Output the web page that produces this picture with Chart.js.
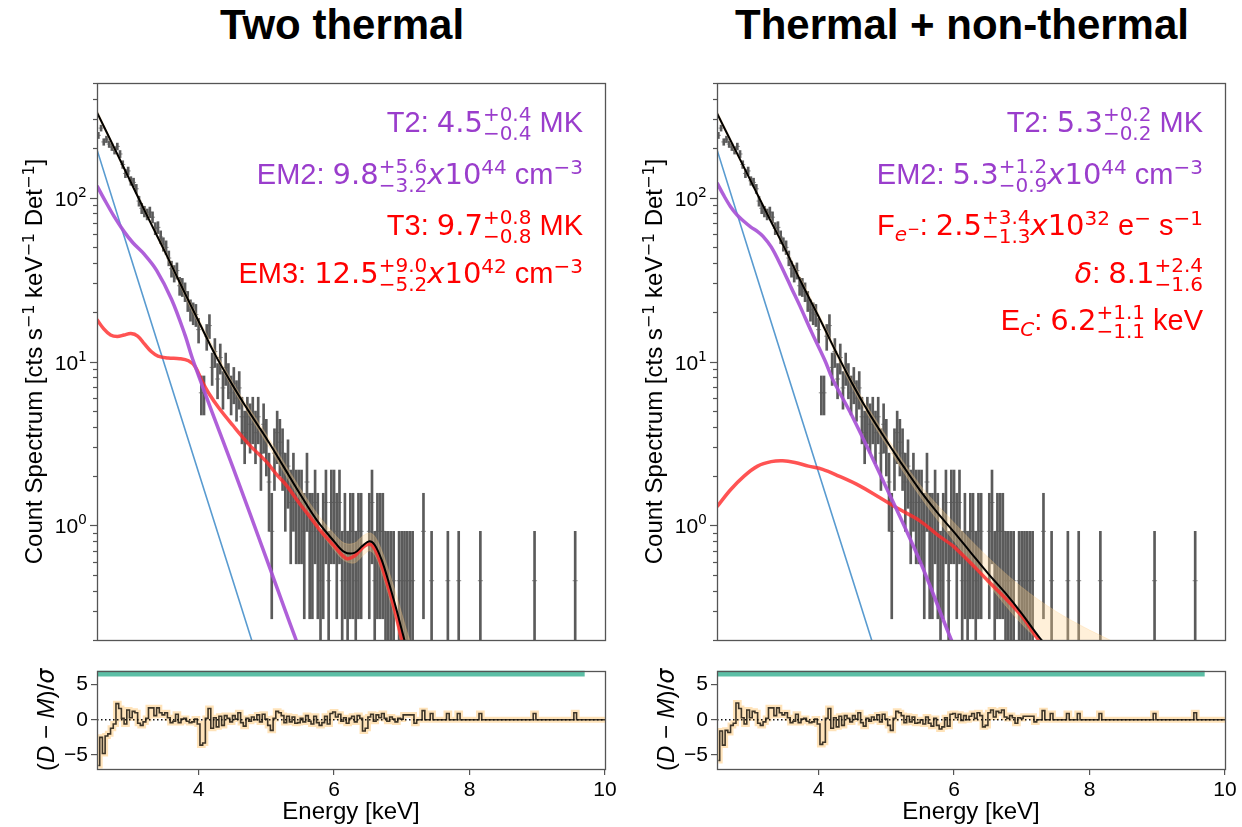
<!DOCTYPE html>
<html>
<head>
<meta charset="utf-8">
<script src="https://cdn.jsdelivr.net/npm/chart.js@4.4.0/dist/chart.umd.min.js"></script>
<style>
  body { margin: 0; background: #fff; width: 1242px; height: 827px; position: relative; overflow: hidden; }
  .ttl { position: absolute; top: 4px; width: 620px; text-align: center; font: bold 42px/42px 'Liberation Sans', Arial, sans-serif; color: #000; }
  canvas { position: absolute; }
</style>
</head>
<body>
<div class="ttl" style="left:32px">Two thermal</div>
<div class="ttl" style="left:652px">Thermal + non-thermal</div>
<canvas id="mainL" width="620" height="570" style="left:0;top:75px"></canvas>
<canvas id="resL" width="620" height="172" style="left:0;top:655px"></canvas>
<canvas id="mainR" width="620" height="570" style="left:620px;top:75px"></canvas>
<canvas id="resR" width="620" height="172" style="left:620px;top:655px"></canvas>
<script>
const FONT = "'Liberation Sans', Arial, sans-serif";
const MATH = "'DejaVu Sans', sans-serif";
const AXIS_COLOR = "#555";

// DATA: counts spectrum, 0.04 keV bins (rate = counts * RATE_PER_COUNT)
const RATE_PER_COUNT = 0.46;
const binE = [
  2.52,2.56,2.60,2.64,2.68,2.72,2.76,2.80,2.84,2.88,
  2.92,2.96,3.00,3.04,3.08,3.12,3.16,3.20,3.24,3.28,
  3.32,3.36,3.40,3.44,3.48,3.52,3.56,3.60,3.64,3.68,
  3.72,3.76,3.80,3.84,3.88,3.92,3.96,4.00,4.04,4.08,
  4.12,4.16,4.20,4.24,4.28,4.32,4.36,4.40,4.44,4.48,
  4.52,4.56,4.60,4.64,4.68,4.72,4.76,4.80,4.84,4.88,
  4.92,4.96,5.00,5.04,5.08,5.12,5.16,5.20,5.24,5.28,
  5.32,5.36,5.40,5.44,5.48,5.52,5.56,5.60,5.64,5.68,
  5.72,5.76,5.80,5.84,5.88,5.92,5.96,6.00,6.04,6.08,
  6.12,6.16,6.20,6.24,6.28,6.32,6.36,6.40,6.44,6.48,
  6.52,6.56,6.60,6.64,6.68,6.72,6.76,6.80,6.84,6.88,
  6.92,6.96,7.00,7.04,7.08,7.12,7.16,7.20,
  7.32,7.44,7.68,7.84,8.16,8.96,9.56
];
const counts = [
  521,577,475,493,461,442,421,446,401,346,
  305,316,275,269,246,207,187,179,172,177,
  165,141,143,125,113,108,93,80,75,78,
  63,62,58,51,45,43,42,34,14,14,
  31,36,20,25,17,23,15,20,17,14,
  16,13,15,10,8,10,9,10,8,10,
  6,9,7,4,2,6,8,7,6,4,
  5,3,4,3,3,3,2,4,2,2,
  3,2,1,2,3,1,3,3,2,3,
  1,2,1,2,2,1,2,2,0,0,
  2,3,1,2,2,2,1,1,1,1,
  0,1,1,1,1,1,1,0,
  2,1,1,1,1,1,1
];

// residuals (D-M)/sigma
const resE = [
  2.52,2.56,2.60,2.64,2.68,2.72,2.76,2.80,2.84,2.88,
  2.92,2.96,3.00,3.04,3.08,3.12,3.16,3.20,3.24,3.28,
  3.32,3.36,3.40,3.44,3.48,3.52,3.56,3.60,3.64,3.68,
  3.72,3.76,3.80,3.84,3.88,3.92,3.96,4.00,4.04,4.08,
  4.12,4.16,4.20,4.24,4.28,4.32,4.36,4.40,4.44,4.48,
  4.52,4.56,4.60,4.64,4.68,4.72,4.76,4.80,4.84,4.88,
  4.92,4.96,5.00,5.04,5.08,5.12,5.16,5.20,5.24,5.28,
  5.32,5.36,5.40,5.44,5.48,5.52,5.56,5.60,5.64,5.68,
  5.72,5.76,5.80,5.84,5.88,5.92,5.96,6.00,6.04,6.08,
  6.12,6.16,6.20,6.24,6.28,6.32,6.36,6.40,6.44,6.48,
  6.52,6.56,6.60,6.64,6.68,6.72,6.76,6.80,6.84,6.88,
  6.92,6.96,7.00,7.04,7.08,7.12,7.16,7.20,
  7.24,7.28,7.32,7.36,7.40,7.44,7.48,7.64,7.68,7.72,7.80,7.84,7.88,
  8.12,8.16,8.20,8.92,8.96,9.00,9.52,9.56,9.60,10.00
];
const resLeft = [
  -6.5,-2.5,-4.8,-2.3,-2.0,-1.2,-0.6,2.3,1.6,0.2,
  -0.6,1.4,0.3,1.2,1.0,-0.5,-0.8,-0.3,0.2,1.7,
  1.7,0.6,1.7,1.0,0.7,1.0,0.3,-0.4,-0.2,0.8,
  -0.4,0.1,0.2,-0.2,-0.4,-0.3,0.1,-0.6,-3.6,-3.3,
  0.2,1.6,-1.2,0.3,-1.0,0.5,-0.8,0.6,0.2,-0.3,
  0.6,0.1,1.0,-0.4,-0.9,0.2,-0.2,0.4,0.0,0.7,
  -0.3,0.8,0.1,-0.8,-1.5,0.2,1.2,1.0,0.6,-0.4,
  0.5,-0.3,0.4,-0.5,-0.4,0.2,-0.3,0.6,-0.2,-0.6,
  0.5,-0.4,-0.8,-0.4,0.5,-0.6,0.9,1.1,0.4,0.8,
  -0.2,0.3,-0.5,0.2,0.5,-0.3,0.6,0.2,-1.6,-1.2,
  0.4,0.8,-0.2,0.7,0.3,0.9,0.2,-0.2,0.4,0.1,
  -0.3,0.2,0.1,0.7,0.7,0.7,0.7,-0.5,
  0,0,1.3,0,0,0.9,0,0,0.9,0,0,0.9,0,
  0,0.9,0,0,0.9,0,0,1.0,0,0
];
const resRight = [
  -5.8,-1.6,-3.6,-1.5,-1.8,-0.8,-0.5,2.4,1.6,0.3,
  -0.6,1.4,0.3,1.2,1.0,-0.5,-0.8,-0.3,0.2,1.7,
  1.7,0.6,1.7,1.0,0.7,1.0,0.3,-0.4,-0.2,0.8,
  -0.4,0.1,0.2,-0.2,-0.4,-0.3,0.1,-0.6,-3.5,-3.2,
  0.2,1.6,-1.2,0.3,-1.0,0.5,-0.8,0.6,0.2,-0.3,
  0.6,0.1,1.0,-0.4,-0.9,0.2,-0.2,0.4,0.0,0.7,
  -0.3,0.8,0.1,-0.8,-1.5,0.2,1.2,1.0,0.6,-0.4,
  0.5,-0.3,0.4,-0.5,-0.4,0.0,-0.6,0.4,-0.5,-0.9,
  0.2,-0.8,-1.3,-1.0,0.3,-0.9,0.8,0.9,0.3,0.8,
  -0.1,0.6,0.0,0.5,0.9,0.2,1.0,0.6,-1.0,-0.8,
  1.0,1.4,0.4,1.2,1.0,1.4,0.4,0.2,0.6,0.3,
  -0.5,0.3,0.2,0.5,0.5,0.5,0.5,-0.3,
  0,0,1.3,0,0,0.9,0,0,0.9,0,0,0.9,0,
  0,0.9,0,0,0.9,0,0,1.0,0,0
];
const FIT_RANGE = [2.5, 9.7];

// model components, left (two thermal)
const blackE_L = [2.5,2.75,3.0,3.25,3.5,3.75,4.0,4.25,4.5,4.75,5.0,5.25,5.5,5.75,6.0,6.15,6.3,6.42,6.52,6.6,6.7,6.8,6.9,7.0,7.1];
const blackL   = [331,203,124,76,47,28.7,17.6,10.9,7.2,4.9,3.4,2.3,1.55,1.07,0.8,0.69,0.68,0.75,0.8,0.76,0.62,0.46,0.33,0.23,0.16];
const purpleE_L = [2.5,2.6,2.75,2.9,3.03,3.2,3.38,3.6,3.8,3.91,4.2,4.5,5.0,5.44,5.6];
const purpleL   = [118,99,77,62,53,45,36,24,14.5,10.4,4.9,2.3,0.63,0.2,0.14];
const redE_L = [2.5,2.6,2.7,2.8,2.9,3.0,3.1,3.2,3.3,3.4,3.55,3.72,3.85,3.95,4.05,4.15,4.3,4.5,4.75,5.0,5.15,5.3,5.49,5.65,5.78,6.0,6.18,6.3,6.42,6.52,6.6,6.7,6.8,6.9,7.0,7.1];
const redL   = [18,15.8,14.5,14.2,14.5,14.8,14.3,12.8,11.5,10.8,10.5,10.4,10.1,9.3,7.6,6.4,5.2,4.1,3.1,2.45,2.05,1.75,1.36,1.12,0.95,0.75,0.63,0.65,0.73,0.77,0.72,0.57,0.42,0.3,0.2,0.14];
const bandE_L  = [2.5,3.0,3.5,4.0,4.5,5.0,5.5,5.75,6.0,6.15,6.3,6.42,6.52,6.6,6.7,6.8,6.9,7.0,7.1,7.2];
const bandHiL  = [342,127,48.5,18.3,7.5,3.6,1.68,1.18,0.89,0.78,0.78,0.86,0.9,0.86,0.71,0.54,0.4,0.29,0.21,0.16];
const bandLoL  = [321,121,45.5,16.9,6.9,3.2,1.43,0.97,0.71,0.61,0.59,0.65,0.7,0.66,0.52,0.38,0.27,0.18,0.12,0.09];

// model components, right (thermal + non-thermal)
const blackE_R = [2.5,2.75,3.0,3.25,3.5,3.75,4.0,4.25,4.5,4.75,5.0,5.25,5.5,5.75,6.0,6.25,6.5,6.75,7.0,7.25,7.5];
const blackR   = [327,203,126,78,49,30,18.8,11.6,7.3,4.8,3.3,2.3,1.63,1.2,0.91,0.68,0.51,0.39,0.29,0.21,0.16];
const purpleE_R = [2.5,2.6,2.7,2.8,2.89,3.0,3.1,3.18,3.3,3.45,3.6,3.72,3.9,4.1,4.2,4.5,5.0,5.5,5.96,6.2];
const purpleR   = [123,103,88,78,72,66,62,58,50,38,28,22,15,10,7.9,4.6,1.7,0.6,0.2,0.12];
const redE_R = [2.5,2.7,2.9,3.1,3.3,3.47,3.65,3.85,4.06,4.3,4.6,4.9,5.2,5.49,5.78,6.0,6.5,7.0,7.25,7.5];
const redR   = [1.3,1.65,2.0,2.3,2.45,2.48,2.42,2.3,2.2,2.0,1.75,1.48,1.25,1.07,0.86,0.74,0.46,0.28,0.2,0.16];
const bandE_R  = [2.5,3.0,3.5,4.0,4.5,5.0,5.5,6.0,6.5,7.0,7.5,8.0,8.3,8.6];
const bandHiR  = [338,129,50.5,19.6,7.6,3.5,1.76,1.04,0.64,0.42,0.3,0.23,0.2,0.17];
const bandLoR  = [317,123,47.5,18.2,6.9,3.1,1.5,0.8,0.44,0.25,0.16,0.11,0.09,0.07];

// cool component, same in both fits
const blueE = [2.5,3.0,3.5,4.0,4.5,4.8,5.0];
const blue  = [196,43,9.5,2.1,0.47,0.19,0.1];

// fit results text
const PURPLE_TXT = "#9a3dcc";
const RED_TXT = "#ff0000";
const annotLeft = [
  {c: PURPLE_TXT, p: [{t:'T2: '},{t:'4.5',m:1},{hi:'+0.4',lo:'−0.4'},{t:' MK'}]},
  {c: PURPLE_TXT, p: [{t:'EM2: '},{t:'9.8',m:1},{hi:'+5.6',lo:'−3.2'},{t:'x',it:1,m:1},{t:'10',m:1},{sup:'44'},{t:' cm'},{sup:'−3'}]},
  {c: RED_TXT, p: [{t:'T3: '},{t:'9.7',m:1},{hi:'+0.8',lo:'−0.8'},{t:' MK'}]},
  {c: RED_TXT, p: [{t:'EM3: '},{t:'12.5',m:1},{hi:'+9.0',lo:'−5.2'},{t:'x',it:1,m:1},{t:'10',m:1},{sup:'42'},{t:' cm'},{sup:'−3'}]}
];
const annotRight = [
  {c: PURPLE_TXT, p: [{t:'T2: '},{t:'5.3',m:1},{hi:'+0.2',lo:'−0.2'},{t:' MK'}]},
  {c: PURPLE_TXT, p: [{t:'EM2: '},{t:'5.3',m:1},{hi:'+1.2',lo:'−0.9'},{t:'x',it:1,m:1},{t:'10',m:1},{sup:'44'},{t:' cm'},{sup:'−3'}]},
  {c: RED_TXT, p: [{t:'F'},{sub:'e',it:1},{sup:'−',sz:0.5,lift:0.02},{t:': '},{t:'2.5',m:1},{hi:'+3.4',lo:'−1.3'},{t:'x',it:1,m:1},{t:'10',m:1},{sup:'32'},{t:' e'},{sup:'−'},{t:' s'},{sup:'−1'}]},
  {c: RED_TXT, p: [{t:'δ',it:1,m:1},{t:': '},{t:'8.1',m:1},{hi:'+2.4',lo:'−1.6'}]},
  {c: RED_TXT, p: [{t:'E'},{sub:'C',it:1},{t:': '},{t:'6.2',m:1},{hi:'+1.1',lo:'−1.1'},{t:' keV'}]}
];
const ANNOT_BASE = [49, 101, 152, 200, 247];   // baselines below plot top

// TEXT HELPERS
function fontFor(p, size) {
  const small = Math.round(size * (p.sz || 0.68));
  if (p.hi !== undefined) return small + 'px ' + MATH;
  if (p.sup !== undefined || p.sub !== undefined) return (p.it ? 'italic ' : '') + small + 'px ' + MATH;
  return (p.it ? 'italic ' : '') + size + 'px ' + (p.m ? MATH : FONT);
}

function drawRich(ctx, parts, x, y, size, color, align) {
  const ws = parts.map(p => {
    ctx.font = fontFor(p, size);
    if (p.hi !== undefined) return Math.max(ctx.measureText(p.hi).width, ctx.measureText(p.lo).width);
    return ctx.measureText(p.sup ?? p.sub ?? p.t).width;
  });
  const total = ws.reduce((a, b) => a + b, 0);
  let cx = align === 'right' ? x - total : align === 'center' ? x - total / 2 : x;
  ctx.fillStyle = color;
  ctx.textAlign = 'left';
  ctx.textBaseline = 'alphabetic';
  parts.forEach((p, i) => {
    ctx.font = fontFor(p, size);
    if (p.hi !== undefined) {
      ctx.fillText(p.hi, cx, y - size * 0.37);
      ctx.fillText(p.lo, cx, y + size * 0.29);
    } else if (p.sup !== undefined) {
      ctx.fillText(p.sup, cx, y - size * (p.lift ?? 0.33));
    } else if (p.sub !== undefined) {
      ctx.fillText(p.sub, cx, y + size * 0.2);
    } else {
      ctx.fillText(p.t, cx, y);
    }
    cx += ws[i];
  });
}

// PLUGINS
const framePlugin = {
  id: 'frame',
  afterDraw(chart) {
    const {ctx, chartArea: a} = chart;
    ctx.save();
    ctx.strokeStyle = AXIS_COLOR;
    ctx.lineWidth = 1.3;
    ctx.strokeRect(Math.round(a.left) + 0.5, Math.round(a.top) + 0.5, Math.round(a.right - a.left), Math.round(a.bottom - a.top));
    ctx.restore();
  }
};

const logAxisPlugin = {
  id: 'logAxis',
  afterDraw(chart) {
    const {ctx, chartArea: a} = chart;
    const ys = chart.scales.y;
    ctx.save();
    ctx.strokeStyle = AXIS_COLOR;
    ctx.lineWidth = 1.2;
    for (let k = -1; k <= 2; k++) {
      for (let m = 1; m <= 9; m++) {
        const v = m * Math.pow(10, k);
        if (v < ys.min * 0.999 || v > ys.max * 1.001) continue;
        const py = Math.round(ys.getPixelForValue(v)) + 0.5;
        const len = m === 1 ? 7 : 4;
        ctx.beginPath();
        ctx.moveTo(a.left - len, py);
        ctx.lineTo(a.left, py);
        ctx.stroke();
        if (m === 1) drawRich(ctx, [{t:'10'}, {sup:String(k), lift:0.42}], a.left - 10, py + 7.5, 21, '#000', 'right');
      }
    }
    ctx.restore();
  }
};

function textPlugin(annot, yTitle, titleX, titleSize) {
  return {
    id: 'texts',
    afterDraw(chart) {
      const {ctx, chartArea: a} = chart;
      ctx.save();
      (annot || []).forEach((row, i) => drawRich(ctx, row.p, a.right - 22, a.top + ANNOT_BASE[i], 29, row.c, 'right'));
      ctx.translate(titleX, (a.top + a.bottom) / 2);
      ctx.rotate(-Math.PI / 2);
      drawRich(ctx, yTitle, 0, 8, titleSize, '#000', 'center');
      ctx.restore();
    }
  };
}

const mainTitle = [{t:'Count Spectrum [cts s'},{sup:'−1'},{t:' keV'},{sup:'−1'},{t:' Det'},{sup:'−1'},{t:']'}];
const resTitle = [{t:'('},{t:'D',it:1},{t:' − '},{t:'M',it:1},{t:')/'},{t:'σ',it:1,m:1}];

// CHARTS
function curve(xs, ys, color, width, order, extra) {
  return Object.assign({
    type: 'line', data: xs.map((x, i) => ({x, y: ys[i]})),
    borderColor: color, borderWidth: width, pointRadius: 0, showLine: true,
    tension: 0.35, fill: false, order
  }, extra || {});
}

function mainChart(id, m, annot) {
  const errBars = [], centres = [];
  binE.forEach((e, i) => {
    const n = counts[i];
    if (n <= 0) return;
    const s = Math.sqrt(n);
    // a one-count bar reaches zero: keep it positive so the log axis can place it
    errBars.push({x: e, y: [Math.max((n - s) * RATE_PER_COUNT, 0.01), (n + s) * RATE_PER_COUNT]});
    centres.push({x: e, y: n * RATE_PER_COUNT});
  });
  const sets = [
    curve(m.blackE, m.black, '#000', 2, 0),
    curve(m.purpleE, m.purple, 'rgba(168,82,214,0.92)', 3.5, 1),
    curve(m.redE, m.red, 'rgba(255,45,45,0.82)', 3.5, 2),
    curve(blueE, blue, 'rgba(80,150,205,0.95)', 1.6, 3, {tension: 0}),
    curve(m.bandE, m.bandHi, 'rgba(255,200,120,0.25)', 1, 4, {fill: '+1', backgroundColor: 'rgba(255,208,140,0.33)'}),
    curve(m.bandE, m.bandLo, 'rgba(255,200,120,0.25)', 1, 4),
    {type: 'scatter', data: centres, pointStyle: 'line', pointRadius: 2.5, borderWidth: 1,
     borderColor: 'rgba(90,90,90,0.7)', backgroundColor: 'rgba(90,90,90,0.7)', order: 5},
    {type: 'bar', data: errBars, barThickness: 2, backgroundColor: 'rgba(45,45,45,0.78)', borderWidth: 0, grouped: false, order: 6}
  ];
  return new Chart(document.getElementById(id), {
    type: 'scatter',
    data: {datasets: sets},
    options: {
      responsive: false, animation: false, devicePixelRatio: 1,
      layout: {padding: {top: 8, right: 15, bottom: 1, left: 0}},
      plugins: {legend: {display: false}, tooltip: {enabled: false}},
      scales: {
        x: {type: 'linear', min: 2.5, max: 10, display: false, offset: false},
        y: {type: 'logarithmic', min: 0.2, max: 500,
            ticks: {display: false}, grid: {display: false}, border: {display: false},
            afterFit(s) { s.width = 97; }}
      }
    },
    plugins: [framePlugin, logAxisPlugin, textPlugin(annot, mainTitle, 34, 24)]
  });
}

function residChart(id, res) {
  const pts = resE.map((x, i) => ({x, y: res[i]}));
  const tickFont = {family: FONT, size: 21};
  return new Chart(document.getElementById(id), {
    type: 'scatter',
    data: {datasets: [
      {type: 'line', data: [{x: 2.5, y: 0}, {x: 10, y: 0}], borderColor: '#111', borderWidth: 1.5,
       borderDash: [1.5, 2.5], pointRadius: 0, showLine: true, order: 0},
      {type: 'line', data: pts, stepped: 'middle', borderColor: 'rgba(45,38,28,0.92)', borderWidth: 1.6,
       pointRadius: 0, showLine: true, order: 1},
      {type: 'line', data: pts, stepped: 'middle', borderColor: 'rgba(255,185,80,0.4)', borderWidth: 6,
       pointRadius: 0, showLine: true, order: 2},
      {type: 'line', data: [{x: FIT_RANGE[0], y: 6.6}, {x: FIT_RANGE[1], y: 6.6}], borderColor: '#5cbfa6',
       borderWidth: 6, borderCapStyle: 'butt', pointRadius: 0, showLine: true, order: 3}
    ]},
    options: {
      responsive: false, animation: false, devicePixelRatio: 1,
      layout: {padding: {top: 7, right: 15, bottom: 0, left: 0}},
      plugins: {legend: {display: false}, tooltip: {enabled: false}},
      scales: {
        x: {type: 'linear', min: 2.5, max: 10, offset: false,
            afterBuildTicks(s) { s.ticks = [4, 6, 8, 10].map(v => ({value: v})); },
            ticks: {font: tickFont, color: '#000', padding: 3, maxRotation: 0, autoSkip: false},
            grid: {drawOnChartArea: false, tickLength: 6, color: AXIS_COLOR, lineWidth: 1.2},
            border: {display: false},
            title: {display: true, text: 'Energy [keV]', font: {family: FONT, size: 24}, color: '#000', padding: {top: 0, bottom: 0}},
            afterFit(s) { s.height = 58; }},
        y: {type: 'linear', min: -7, max: 7,
            afterBuildTicks(s) { s.ticks = [-5, 0, 5].map(v => ({value: v})); },
            ticks: {font: tickFont, color: '#000', padding: 3, callback: v => v < 0 ? '−' + (-v) : String(v)},
            grid: {drawOnChartArea: false, tickLength: 6, color: AXIS_COLOR, lineWidth: 1.2},
            border: {display: false},
            afterFit(s) { s.width = 97; }}
      }
    },
    plugins: [framePlugin, textPlugin(null, resTitle, 46, 24)]
  });
}

mainChart('mainL', {
  blackE: blackE_L, black: blackL, purpleE: purpleE_L, purple: purpleL,
  redE: redE_L, red: redL, bandE: bandE_L, bandHi: bandHiL, bandLo: bandLoL
}, annotLeft);
mainChart('mainR', {
  blackE: blackE_R, black: blackR, purpleE: purpleE_R, purple: purpleR,
  redE: redE_R, red: redR, bandE: bandE_R, bandHi: bandHiR, bandLo: bandLoR
}, annotRight);
residChart('resL', resLeft);
residChart('resR', resRight);
</script>
</body>
</html>
